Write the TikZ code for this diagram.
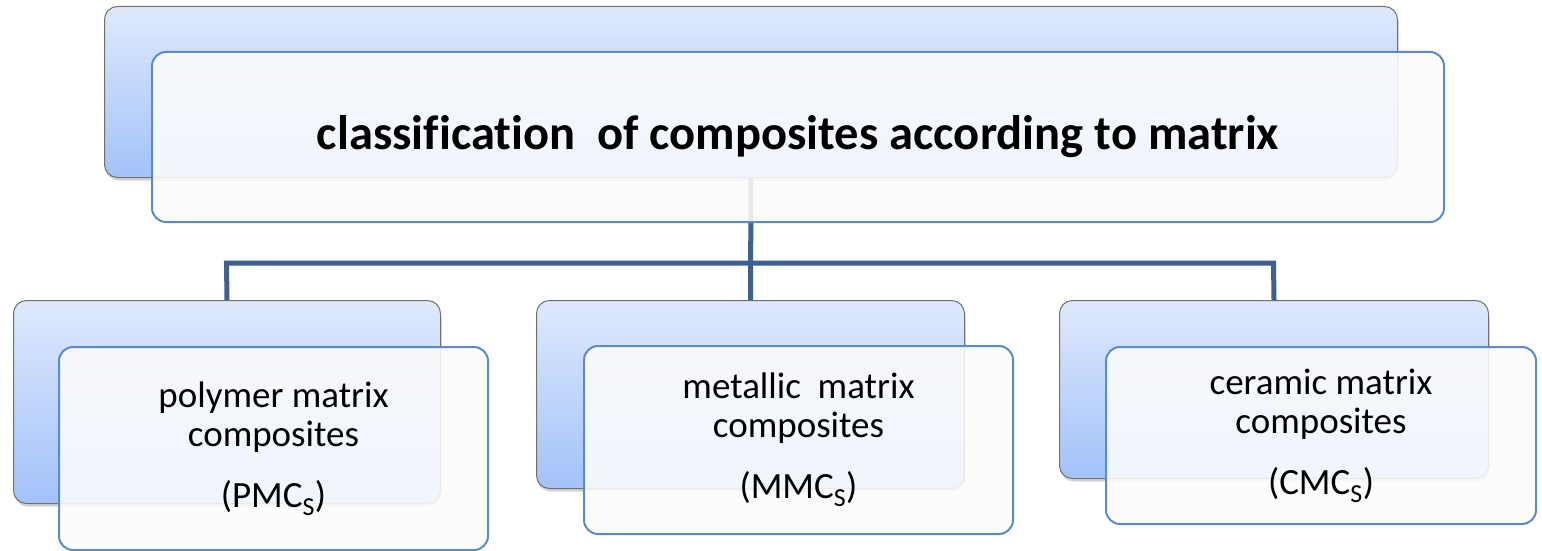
\documentclass[tikz,border=0pt]{standalone}
\usepackage{fontspec}
\setmainfont{Carlito}[Ligatures={NoCommon}]
\usetikzlibrary{shadows}
\definecolor{btop}{RGB}{222,233,252}
\definecolor{bbot}{RGB}{163,194,250}
\definecolor{bgray}{RGB}{112,112,112}
\definecolor{fblue}{RGB}{91,139,200}
\definecolor{conn}{RGB}{60,96,145}
\definecolor{ffill}{RGB}{252,252,253}
\begin{document}
\begin{tikzpicture}[x=1pt,y=-1pt,
  backbox/.style={draw=bgray, line width=1pt, rounded corners=13pt,
    top color=btop, bottom color=bbot, anchor=north west, inner sep=0pt,
    drop shadow={opacity=0.35, shadow xshift=1pt, shadow yshift=-3pt}},
  frontbox/.style={draw=fblue, line width=2pt, rounded corners=14pt,
    fill=ffill, fill opacity=0.88, text opacity=1, anchor=north west, inner sep=0pt,
    align=center, font=\fontsize{37}{39}\selectfont},
  connector/.style={draw=conn, line width=5pt}]
\useasboundingbox (0,0) rectangle (1542,551);
% back boxes
\node[backbox, minimum width=1293pt, minimum height=171pt] (tb) at (104,6) {};
\node[backbox, minimum width=427pt, minimum height=203pt] (lb) at (13,300) {};
\node[backbox, minimum width=428pt, minimum height=188pt] (mb) at (536,300) {};
\node[backbox, minimum width=429pt, minimum height=178pt] (rb) at (1059,300) {};
% connectors
\coordinate (hl) at (226.5,263);
\coordinate (hr) at (1273.5,263);
\draw[connector] (tb.south) -- (mb.north);
\draw[connector] (lb.north) -- (hl) -- (hr) -- (rb.north);
% front boxes
\node[frontbox, minimum width=1292pt, minimum height=170pt,
  font=\fontsize{48.5}{52}\selectfont\bfseries] (tf) at (151,51)
  {classification\ \ of composites according to matrix};
\node[frontbox, minimum width=429pt, minimum height=203pt] (lf) at (58,346)
  {\rule{0pt}{6pt}polymer matrix\\ composites\\[22pt] (PMC\textsubscript{S})};
\node[frontbox, minimum width=429pt, minimum height=188pt] (mf) at (583,345)
  {\rule{0pt}{6pt}metallic\ \ matrix\\ composites\\[22pt] (MMC\textsubscript{S})};
\node[frontbox, minimum width=430pt, minimum height=177pt] (rf) at (1105,346)
  {\rule{0pt}{6pt}ceramic matrix\\ composites\\[22pt] (CMC\textsubscript{S})};
\end{tikzpicture}
\end{document}
